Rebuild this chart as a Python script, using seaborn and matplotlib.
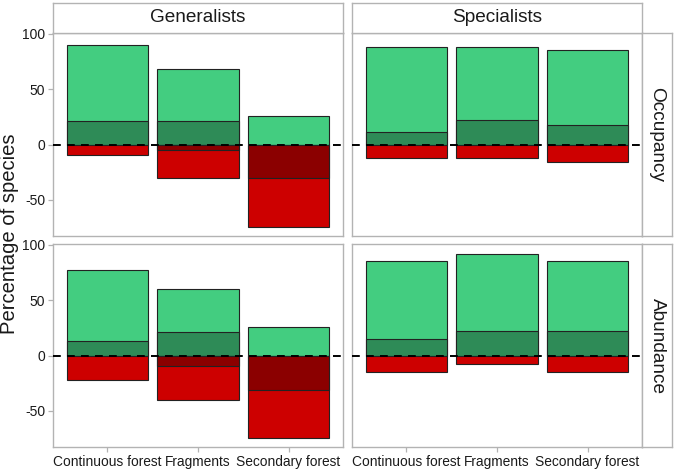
import matplotlib
matplotlib.use("Agg")
import matplotlib.pyplot as plt
import seaborn as sns
import pandas as pd

sns.set_theme(style="white")
plt.rcParams['font.family'] = ['Liberation Sans', 'DejaVu Sans']

sites = ["Continuous forest", "Fragments", "Secondary forest"]
groups = ["Generalists", "Specialists"]
metrics = ["Occupancy", "Abundance"]

# positive totals (light green), positive dark part (dark green)
# negative dark part (dark red), negative totals (red)
occ_gen_pos = [90, 68, 25.5]
occ_gen_pos_dark = [21, 21, 0]
occ_gen_neg_dark = [0, -5, -30.5]
occ_gen_neg = [-9, -30, -74]

occ_spe_pos = [88, 88, 85]
occ_spe_pos_dark = [11, 22, 18]
occ_spe_neg_dark = [0, 0, 0]
occ_spe_neg = [-12, -12, -16]

abu_gen_pos = [77, 60, 26]
abu_gen_pos_dark = [13, 21, 0]
abu_gen_neg_dark = [0, -9, -31]
abu_gen_neg = [-22, -40, -74]

abu_spe_pos = [85, 92, 85]
abu_spe_pos_dark = [15, 22, 22]
abu_spe_neg_dark = [0, 0, 0]
abu_spe_neg = [-15, -8, -15]

panels = {
    ("Occupancy", "Generalists"): (occ_gen_pos, occ_gen_pos_dark, occ_gen_neg, occ_gen_neg_dark),
    ("Occupancy", "Specialists"): (occ_spe_pos, occ_spe_pos_dark, occ_spe_neg, occ_spe_neg_dark),
    ("Abundance", "Generalists"): (abu_gen_pos, abu_gen_pos_dark, abu_gen_neg, abu_gen_neg_dark),
    ("Abundance", "Specialists"): (abu_spe_pos, abu_spe_pos_dark, abu_spe_neg, abu_spe_neg_dark),
}

layer_colors = ["#43CD80", "#2E8B57", "#CD0000", "#8B0000"]

W, H = 675, 471
fig = plt.figure(figsize=(W / 100, H / 100), dpi=100)

def rect(x0, y0, x1, y1):
    return [x0 / W, 1 - y1 / H, (x1 - x0) / W, (y1 - y0) / H]

col_x = [(53, 343), (352, 642)]
row_y = [(33, 236), (244, 447)]
grey = "#b3b3b3"
txt = "#1a1a1a"

for r, metric in enumerate(metrics):
    for c, group in enumerate(groups):
        x0, x1 = col_x[c]
        y0, y1 = row_y[r]
        ax = fig.add_axes(rect(x0, y0, x1, y1))
        for vals, colr in zip(panels[(metric, group)], layer_colors):
            df = pd.DataFrame({"site": sites, "value": vals})
            df = df[df["value"] != 0]
            sns.barplot(data=df, x="site", y="value", order=sites, color=colr,
                        saturation=1, width=0.9, edgecolor="#222222",
                        linewidth=0.8, errorbar=None, ax=ax)
        ax.axhline(0, color="black", lw=1.4, linestyle=(0, (4, 3.2)), zorder=5)
        ax.set_xlim(-0.6, 2.6)
        ax.set_ylim(-82.5, 100.6)
        ax.set_xlabel("")
        ax.set_ylabel("")
        for s in ax.spines.values():
            s.set_color(grey)
            s.set_linewidth(1.0)
        ax.tick_params(axis="both", which="both", length=3.5, width=0.9,
                       color=grey, labelcolor=txt, labelsize=10, pad=2)
        ax.set_yticks([-50, 0, 50, 100])
        if c == 0:
            ax.set_yticklabels(["-50", "0", "50", "100"])
            ax.tick_params(axis="y", left=True)
        else:
            ax.set_yticklabels([])
            ax.tick_params(axis="y", left=False)
        if r == 1:
            ax.set_xticks([0, 1, 2])
            ax.set_xticklabels(sites, fontsize=9.9)
            ax.tick_params(axis="x", bottom=True)
        else:
            ax.set_xticks([0, 1, 2])
            ax.set_xticklabels([])
            ax.tick_params(axis="x", bottom=False)

# top strips
for c, group in enumerate(groups):
    x0, x1 = col_x[c]
    sax = fig.add_axes(rect(x0, 3, x1, 33))
    sax.set_xticks([]); sax.set_yticks([])
    sax.set_facecolor("white")
    for s in sax.spines.values():
        s.set_color(grey); s.set_linewidth(1.0)
    sax.text(0.5, 0.5, group, ha="center", va="center", fontsize=13.7,
             color=txt, transform=sax.transAxes)

# right strips
for r, metric in enumerate(metrics):
    y0, y1 = row_y[r]
    sax = fig.add_axes(rect(642, y0, 672, y1))
    sax.set_xticks([]); sax.set_yticks([])
    sax.set_facecolor("white")
    for s in sax.spines.values():
        s.set_color(grey); s.set_linewidth(1.0)
    sax.text(0.5, 0.5, metric, ha="center", va="center", fontsize=13.7,
             color=txt, rotation=-90, transform=sax.transAxes)

fig.text(10 / W, 1 - 234 / H, "Percentage of species", rotation=90,
         ha="center", va="center", fontsize=14.6, color=txt)

fig.savefig("out.png", dpi=100)
